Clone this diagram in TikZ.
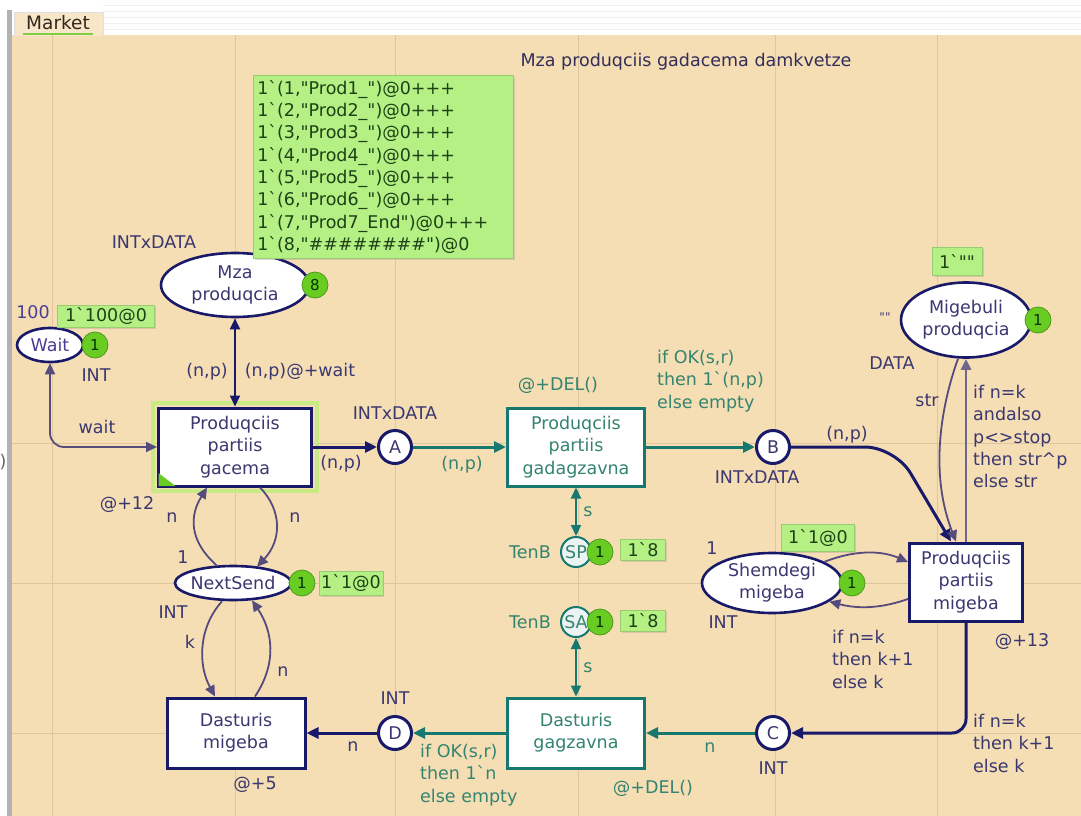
\documentclass[tikz,border=0pt]{standalone}
\usepackage{fontspec}
\setmainfont{DejaVu Sans}[Ligatures=TeXOff]
\usetikzlibrary{arrows.meta,shapes.geometric,calc,shadows}

\definecolor{bg}{RGB}{246,222,180}
\definecolor{gridc}{RGB}{224,198,158}
\definecolor{tabc}{RGB}{248,230,200}
\definecolor{tabline}{RGB}{130,205,70}
\definecolor{navy}{RGB}{25,25,105}
\definecolor{navytxt}{RGB}{58,56,112}
\definecolor{bluetxt}{RGB}{72,62,150}
\definecolor{tealc}{RGB}{22,120,110}
\definecolor{tealtxt}{RGB}{52,132,112}
\definecolor{thinc}{RGB}{85,75,125}
\definecolor{grayarc}{RGB}{112,102,140}
\definecolor{markc}{RGB}{180,240,132}
\definecolor{marktxt}{RGB}{30,66,22}
\definecolor{tokc}{RGB}{104,204,34}
\definecolor{glowc}{RGB}{196,236,128}

\begin{document}
\begin{tikzpicture}[x=1pt,y=-1pt,
  font=\fontsize{17.5}{22.3}\selectfont,
  lbl/.style={text=navytxt,inner sep=0},
  tlbl/.style={text=tealtxt,inner sep=0},
  mlbl/.style={text=navytxt,inner sep=0,anchor=north west,align=left},
  mtlbl/.style={text=tealtxt,inner sep=0,anchor=north west,align=left},
  trans/.style={rectangle,draw=navy,line width=3pt,fill=white,text=navytxt,align=center,inner sep=0},
  ttrans/.style={trans,draw=tealc,text=tealtxt},
  place/.style={ellipse,draw=navy,line width=2.6pt,fill=white,text=navytxt,align=center,inner sep=0},
  port/.style={circle,draw=navy,line width=3pt,fill=white,text=navytxt,minimum size=33pt,inner sep=0},
  tport/.style={circle,draw=tealc,line width=2pt,fill=white!92!tealc,text=tealtxt,minimum size=30pt,inner sep=0},
  token/.style={circle,fill=tokc,draw=tokc!75!black,line width=0.8pt,minimum size=26pt,inner sep=0,
    text=black!80!green,font=\fontsize{15}{15}\selectfont},
  markbox/.style={rectangle,fill=markc,draw=markc!85!black,line width=0.5pt,text=marktxt,inner sep=2pt,
    drop shadow={shadow xshift=1.5pt,shadow yshift=-1.5pt,opacity=0.25}},
  arr/.style={-{Triangle[length=11pt,width=10pt]}},
  bigarr/.style={-{Triangle[length=12pt,width=11pt]}},
  biarr/.style={{Triangle[length=11pt,width=10pt]}-{Triangle[length=11pt,width=10pt]}},
  thickarc/.style={draw=navy,line width=3pt},
  tealarc/.style={draw=tealc,line width=3pt},
  thinarc/.style={draw=thinc,line width=1.8pt}
]
\useasboundingbox (0,0) rectangle (1081,816);

% window canvas, header stripes and left frame
\fill[white] (0,0) rectangle (1081,816);
\foreach \yy in {5,11,17,23,29} \draw[black!6,line width=0.8pt] (103,\yy) -- (1081,\yy);
\fill[bg] (12,35) rectangle (1081,816);
\fill[black!30] (7,10) rectangle (12,816);

% page tab
\filldraw[fill=tabc,draw=black!12] (14,36) -- (14,12) -- (103,12) -- (103,36);
\node[text={rgb,255:red,50;green,40;blue,30},inner sep=0,font=\fontsize{18.5}{20}\selectfont] (tab) at (58,23) {Market};
\draw[tabline,line width=2pt] (23,34) -- (93,34);

% guide lines
\foreach \xx in {52,235,395,578,775,937} \draw[gridc,line width=1pt] (\xx,35) -- (\xx,816);
\foreach \yy in {443,583,733} \draw[gridc,line width=1pt] (12,\yy) -- (1081,\yy);
\node[text=black!60,inner sep=0] (edge) at (3,462) {)};

% title
\node[text={rgb,255:red,50;green,45;blue,90},inner sep=0] (title) at (686,62) {Mza produqciis gadacema damkvetze};

% transitions
\node[trans,minimum width=153pt,minimum height=78pt] (gac) at (235,447) {Produqciis\\partiis\\gacema};
\draw[glowc,line width=4pt,opacity=0.9] ($(gac.south west)+(-3.8,3.8)$) rectangle ($(gac.north east)+(3.8,-3.8)$);
\fill[tokc] ($(gac.south west)+(1.5,-1.5)$) -- ++(0,-13) -- ++(17,13) -- cycle;
\node[ttrans,minimum width=137pt,minimum height=78pt] (gadag) at (576,447) {Produqciis\\partiis\\gadagzavna};
\node[trans,minimum width=113pt,minimum height=78pt] (mig) at (966,582) {Produqciis\\partiis\\migeba};
\node[trans,minimum width=138pt,minimum height=70pt] (dm) at (236,733) {Dasturis\\migeba};
\node[ttrans,minimum width=137pt,minimum height=70pt] (gagz) at (576,733) {Dasturis\\gagzavna};

% places
\node[place,minimum width=148pt,minimum height=64pt] (mza) at (235,285) {Mza\\produqcia};
\node[place,minimum width=66pt,minimum height=34pt,text=bluetxt] (wait) at (50,345) {Wait};
\node[place,minimum width=130pt,minimum height=75pt] (mpl) at (966,320) {Migebuli\\produqcia};
\node[place,minimum width=140pt,minimum height=60pt] (shem) at (772,583) {Shemdegi\\migeba};
\node[place,minimum width=116pt,minimum height=34pt,inner xsep=-10pt] (ns) at (233,583) {NextSend};
\node[port] (A) at (395,447) {A};
\node[port] (B) at (773,447) {B};
\node[port] (C) at (773,733) {C};
\node[port] (D) at (395,733) {D};
\node[tport] (SP) at (576,552) {SP};
\node[tport] (SA) at (576,622) {SA};

% arcs: upper row
\draw[draw=navy,line width=2pt,biarr] (mza.south) -- (gac.north);
\draw[thinarc,biarr,rounded corners=14pt] (wait.south) |- (gac.west);
\draw[thickarc,bigarr] (gac.east) -- (A.west);
\draw[tealarc,bigarr] (A.east) -- (gadag.west);
\draw[tealarc,line width=2.2pt,biarr] (gadag.south) -- (SP.north);
\draw[tealarc,bigarr] (gadag.east) -- (B.west);
\coordinate (Bbend) at (895,447);
\coordinate (migin) at ($(mig.north)+(-15,0)$);
\draw[thickarc,bigarr,rounded corners=30pt] (B.east) -- (Bbend) -- (migin);
\coordinate (mplout) at ($(mpl.south)+(-8,0)$);
\coordinate (migin2) at ($(mig.north)+(-10,0)$);
\draw[thinarc,arr] (mplout) .. controls (943,400) and (928,470) .. (migin2);
\draw[draw=grayarc,line width=2.5pt,arr] (mig.north) -- (mpl.south);

% arcs: receiver counter
\coordinate (migw1) at ($(mig.west)+(0,-20)$);
\coordinate (migw2) at ($(mig.west)+(0,17)$);
\draw[thinarc,arr] (shem.22) .. controls (860,548) and (885,552) .. (migw1);
\draw[thinarc,arr] (migw2) .. controls (885,607) and (862,610) .. (shem.-18);

% arcs: lower row
\draw[thickarc,bigarr,rounded corners=14pt] (mig.south) |- (C.east);
\draw[tealarc,bigarr] (C.west) -- (gagz.east);
\draw[tealarc,line width=2.2pt,biarr] (gagz.north) -- (SA.south);
\draw[tealarc,bigarr] (gagz.west) -- (D.east);
\draw[thickarc,bigarr] (D.west) -- (dm.east);

% arcs: sender counter
\coordinate (nsb1) at ($(ns.south)+(-11,0)$);
\coordinate (nsb2) at ($(ns.south)+(19,-1)$);
\coordinate (dmn1) at ($(dm.north)+(-21,0)$);
\coordinate (dmn2) at ($(dm.north)+(19,0)$);
\draw[thinarc,arr] (nsb1) .. controls (198,628) and (198,665) .. (dmn1);
\draw[thinarc,arr] (dmn2) .. controls (278,662) and (272,630) .. (nsb2);
\coordinate (nst1) at ($(ns.north)+(-16,1)$);
\coordinate (nst2) at ($(ns.north)+(24,2)$);
\coordinate (gacs1) at ($(gac.south)+(-28,0)$);
\coordinate (gacs2) at ($(gac.south)+(25,0)$);
\draw[thinarc,arr] (nst1) .. controls (188,540) and (190,515) .. (gacs1);
\draw[thinarc,arr] (gacs2) .. controls (282,510) and (282,540) .. (nst2);

% tokens
\node[token] (tmza) at (315,285) {8};
\node[token] (twait) at (95,345) {1};
\node[token] (tmpl) at (1038,320) {1};
\node[token] (tshem) at (852,583) {1};
\node[token] (tns) at (302,583) {1};
\node[token] (tsp) at (600,552) {1};
\node[token] (tsa) at (600,622) {1};

% markings
\node[markbox,anchor=north west,text width=252pt,align=left,inner xsep=4pt,inner ysep=5pt] (mzamark) at (253,75)
 {1`(1,"Prod1\_")@0+++\\1`(2,"Prod2\_")@0+++\\1`(3,"Prod3\_")@0+++\\1`(4,"Prod4\_")@0+++\\1`(5,"Prod5\_")@0+++\\1`(6,"Prod6\_")@0+++\\1`(7,"Prod7\_End")@0+++\\1`(8,"\#\#\#\#\#\#\#\#")@0};
\node[markbox,minimum width=97pt,minimum height=22pt] (waitmark) at (106,316) {1`100@0};
\node[markbox,minimum width=60pt,minimum height=24pt] (nsmark) at (351,583) {1`1@0};
\node[markbox,minimum width=45pt,minimum height=21pt] (spmark) at (643,550) {1`8};
\node[markbox,minimum width=45pt,minimum height=21pt] (samark) at (643,621) {1`8};
\node[markbox,minimum width=73pt,minimum height=27pt] (shemmark) at (818,538) {1`1@0};
\node[markbox,minimum width=50pt,minimum height=28pt] (mplmark) at (957,261) {1`""};

% place labels
\node[lbl] (l1) at (154,242) {INTxDATA};
\node[lbl,text=bluetxt] (l2) at (33,312) {100};
\node[lbl] (l3) at (96,375) {INT};
\node[lbl] (l4) at (183,557) {1};
\node[lbl] (l5) at (173,612) {INT};
\node[lbl] (l6) at (395,413) {INTxDATA};
\node[lbl] (l7) at (757,477) {INTxDATA};
\node[lbl] (l8) at (395,698) {INT};
\node[lbl] (l9) at (773,768) {INT};
\node[tlbl] (l10) at (530,552) {TenB};
\node[tlbl] (l11) at (530,622) {TenB};
\node[lbl,font=\fontsize{12}{12}\selectfont] (l12) at (885,317) {""};
\node[lbl] (l13) at (892,363) {DATA};
\node[lbl] (l14) at (712,548) {1};
\node[lbl] (l15) at (723,622) {INT};

% transition labels
\node[lbl] (l16) at (127,505) {@+12};
\node[tlbl] (l17) at (558,385) {@+DEL()};
\node[lbl] (l18) at (1022,642) {@+13};
\node[lbl] (l19) at (255,785) {@+5};
\node[tlbl] (l20) at (653,788) {@+DEL()};

% arc inscriptions
\node[lbl] (a1) at (207,372) {(n,p)};
\node[lbl] (a2) at (300,372) {(n,p)@+wait};
\node[lbl] (a3) at (97,427) {wait};
\node[lbl] (a4) at (341,464) {(n,p)};
\node[tlbl] (a5) at (462,465) {(n,p)};
\node[mtlbl] (a6) at (657,350) {if OK(s,r)\\then 1`(n,p)\\else empty};
\node[tlbl] (a7) at (588,512) {s};
\node[tlbl] (a8) at (588,668) {s};
\node[lbl] (a9) at (847,435) {(n,p)};
\node[lbl] (a10) at (927,400) {str};
\node[mlbl] (a11) at (973,385) {if n=k\\andalso\\p<>stop\\then str\textasciicircum p\\else str};
\node[mlbl] (a12) at (832,630) {if n=k\\then k+1\\else k};
\node[mlbl] (a13) at (973,714) {if n=k\\then k+1\\else k};
\node[tlbl] (a14) at (710,748) {n};
\node[mtlbl] (a15) at (420,744) {if OK(s,r)\\then 1`n\\else empty};
\node[lbl] (a16) at (353,747) {n};
\node[lbl] (a17) at (172,518) {n};
\node[lbl] (a18) at (295,518) {n};
\node[lbl] (a19) at (190,642) {k};
\node[lbl] (a20) at (283,672) {n};
\end{tikzpicture}
\end{document}
